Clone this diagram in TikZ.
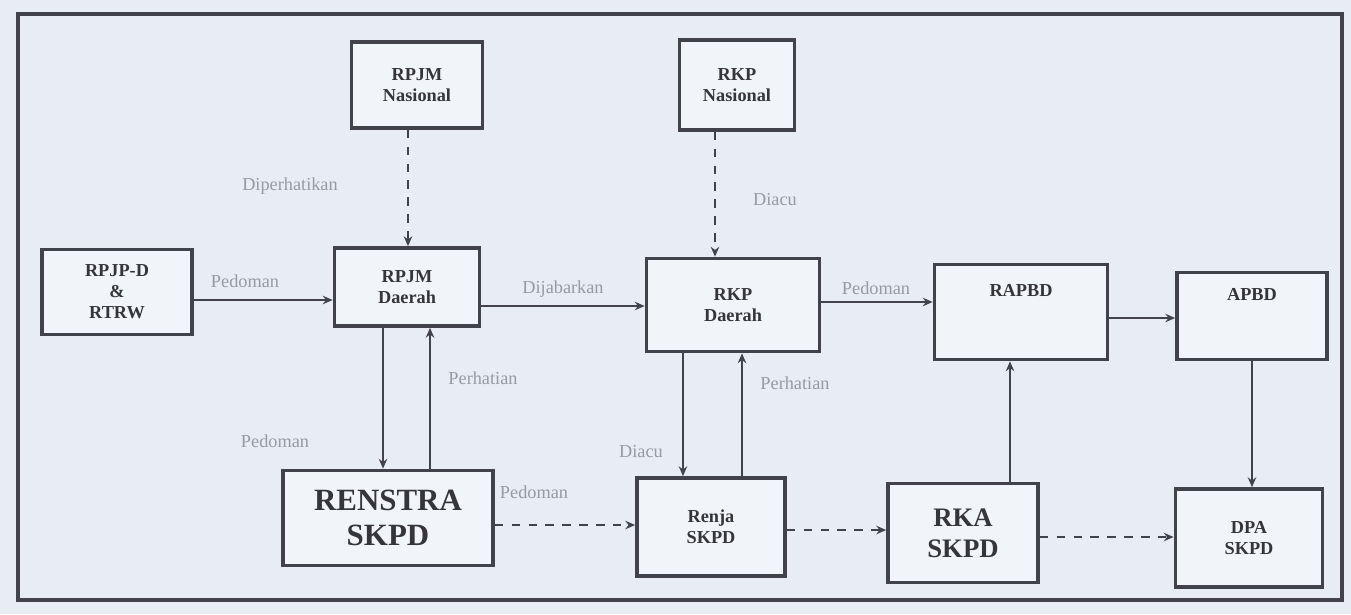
\documentclass[tikz,border=0pt]{standalone}
\usepackage{fontspec}
\setmainfont{Liberation Serif}
\usetikzlibrary{arrows.meta}
\definecolor{ink}{RGB}{66,66,74}
\definecolor{paper}{RGB}{232,237,243}
\definecolor{note}{RGB}{150,154,165}

\tikzset{
    box/.style={draw=ink, line width=2.6pt, fill=paper!60!white, align=center,
        inner sep=2pt, font=\bfseries\fontsize{13}{15}\selectfont, text=ink!80!black},
    lbl/.style={font=\fontsize{13}{15}\selectfont, text=note},
    arr/.style={-{Stealth[length=7pt,width=6pt]}, draw=ink, line width=2pt},
    darr/.style={arr, dashed, dash pattern=on 6pt off 6pt}
}

\begin{document}
\begin{tikzpicture}[x=0.025cm, y=-0.025cm]
    \useasboundingbox (0,0) rectangle (1351,614);
    \fill[paper] (0,0) rectangle (1351,614);
    \draw[ink, line width=2.4pt] (18,14) rectangle (1342,600);

    % top row
    \node[box, minimum width=3.275cm, minimum height=2.15cm] (rpjmn) at (417,85) {RPJM\\Nasional};
    \node[box, minimum width=2.875cm, minimum height=2.25cm] (rkpn) at (737,85) {RKP\\Nasional};

    % middle row
    \node[box, minimum width=3.75cm, minimum height=2.125cm] (rpjpd) at (117,292) {RPJP-D\\\&\\RTRW};
    \node[box, minimum width=3.625cm, minimum height=1.95cm] (rpjmd) at (407,287) {RPJM\\Daerah};
    \node[box, minimum width=4.325cm, minimum height=2.325cm] (rkpd) at (733,305) {RKP\\Daerah};
    \node[box, minimum width=4.325cm, minimum height=2.375cm, text depth=1.1cm] (rapbd) at (1021,312) {RAPBD};
    \node[box, minimum width=3.75cm, minimum height=2.175cm, text depth=1.1cm] (apbd) at (1252,316) {APBD};

    % bottom row
    \node[box, minimum width=5.25cm, minimum height=2.375cm, font=\bfseries\fontsize{22}{25}\selectfont] (renstra) at (388,518) {RENSTRA\\SKPD};
    \node[box, minimum width=3.7cm, minimum height=2.45cm] (renja) at (711,527) {Renja\\SKPD};
    \node[box, minimum width=3.75cm, minimum height=2.475cm, font=\bfseries\fontsize{19}{22}\selectfont] (rka) at (963,533) {RKA\\SKPD};
    \node[box, minimum width=3.675cm, minimum height=2.45cm] (dpa) at (1249,538) {DPA\\SKPD};

    % connectors
    \draw[darr] ([xshift=-0.225cm]rpjmn.south) coordinate (a1) -- (a1 |- rpjmd.north);
    \node[lbl] (l1) at (290,186) {Diperhatikan};
    \draw[darr] ([xshift=-0.55cm]rkpn.south) coordinate (a2) -- (a2 |- rkpd.north);
    \node[lbl] (l2) at (775,200) {Diacu};

    \draw[arr] ([yshift=-0.2cm]rpjpd.east) coordinate (a3) -- (a3 -| rpjmd.west);
    \node[lbl] (l3) at (245,281) {Pedoman};
    \draw[arr] ([yshift=-0.475cm]rpjmd.east) coordinate (a4) -- (a4 -| rkpd.west);
    \node[lbl] (l4) at (563,289) {Dijabarkan};
    \draw[arr] ([yshift=0.075cm]rkpd.east) coordinate (a5) -- (a5 -| rapbd.west);
    \node[lbl] (l5) at (876,288) {Pedoman};
    \draw[arr] ([yshift=-0.15cm]rapbd.east) coordinate (a6) -- (a6 -| apbd.west);

    \draw[arr] ([xshift=-0.6cm]rpjmd.south) coordinate (a7) -- (a7 |- renstra.north);
    \node[lbl] (l7) at (275,441) {Pedoman};
    \draw[arr] ([xshift=1.05cm]renstra.north) coordinate (a8) -- (a8 |- rpjmd.south);
    \node[lbl] (l8) at (483,378) {Perhatian};
    \draw[arr] ([xshift=-1.25cm]rkpd.south) coordinate (a9) -- (a9 |- renja.north);
    \node[lbl] (l9) at (641,452) {Diacu};
    \draw[arr] ([xshift=0.775cm]renja.north) coordinate (a10) -- (a10 |- rkpd.south);
    \node[lbl] (l10) at (795,383) {Perhatian};
    \draw[arr] ([xshift=1.175cm]rka.north) coordinate (a11) -- (a11 |- rapbd.south);
    \draw[arr] (apbd.south) -- (apbd.south |- dpa.north);

    \draw[darr] ([yshift=-0.175cm]renstra.east) coordinate (a13) -- (a13 -| renja.west);
    \node[lbl] (l13) at (534,492) {Pedoman};
    \draw[darr] ([yshift=-0.075cm]renja.east) coordinate (a14) -- (a14 -| rka.west);
    \draw[darr] ([yshift=-0.1cm]rka.east) coordinate (a15) -- (a15 -| dpa.west);
\end{tikzpicture}
\end{document}
